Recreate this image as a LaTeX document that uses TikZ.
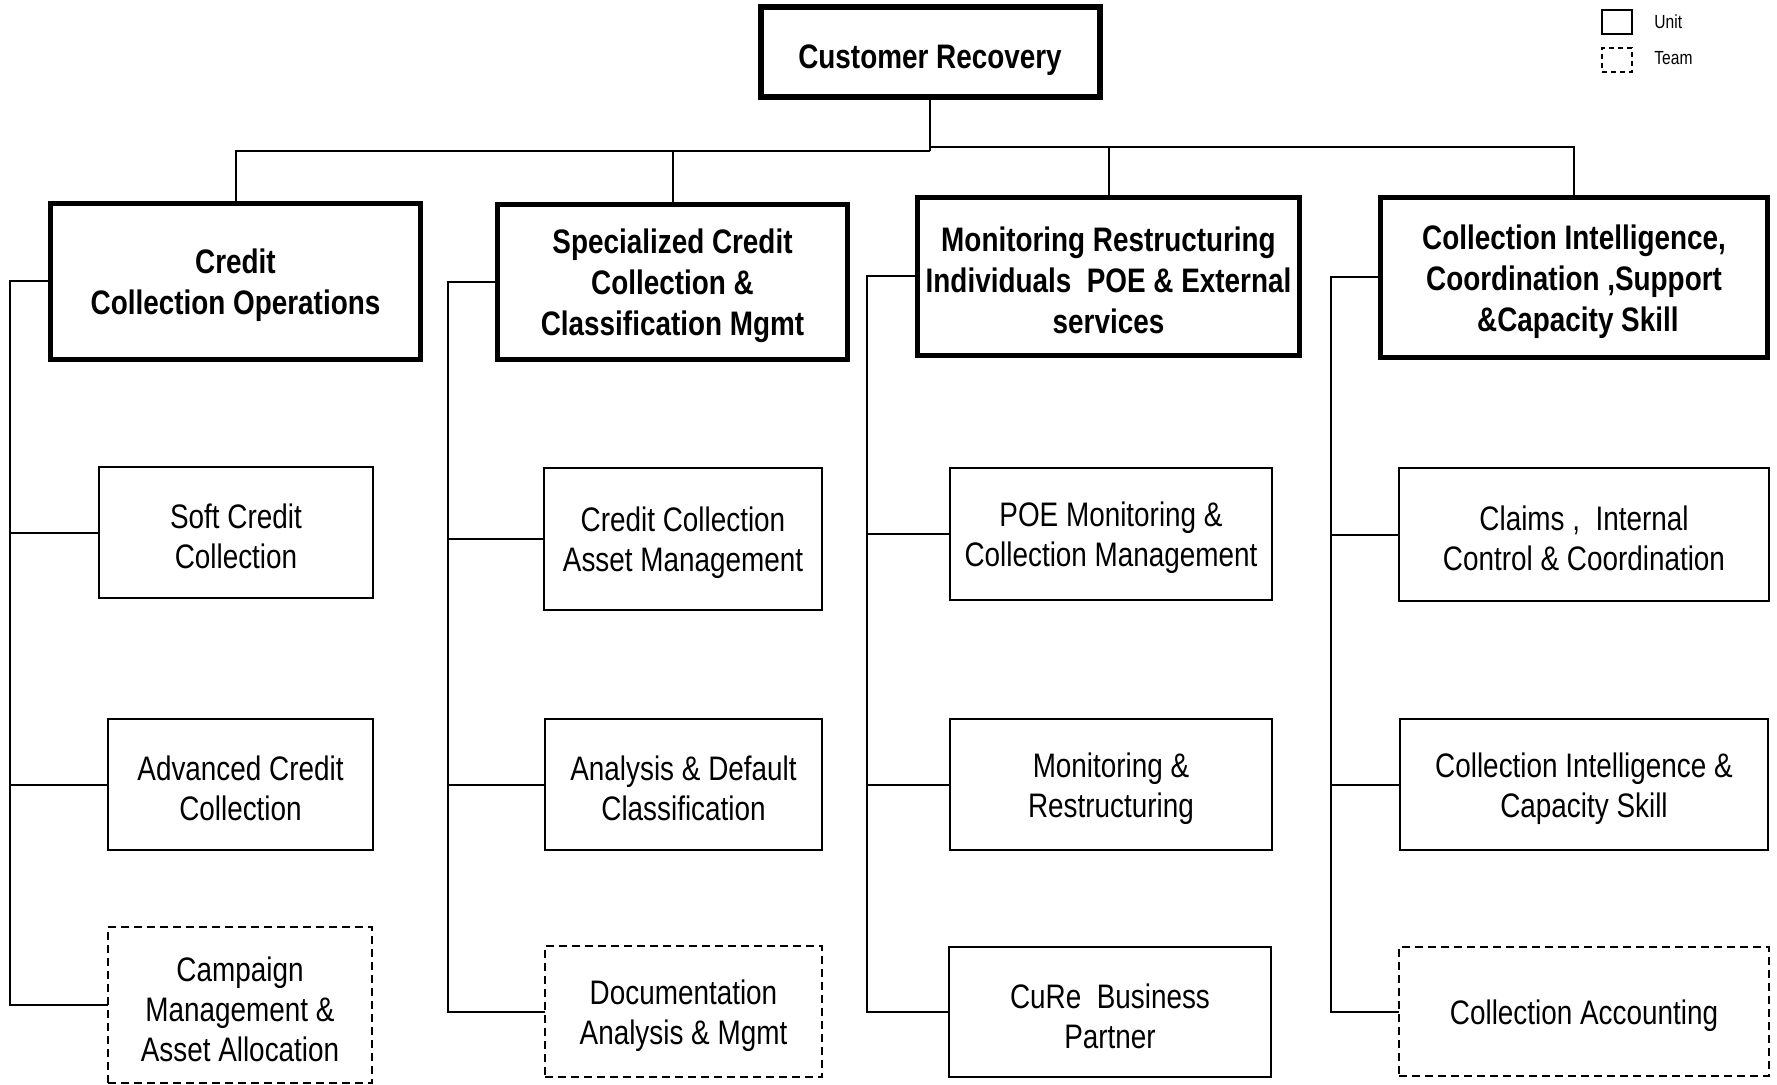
\documentclass[tikz,border=0pt]{standalone}
\usepackage{fontspec}
\setmainfont[FakeStretch=0.82]{Liberation Sans}
\newcommand{\lowr}{\rule{0pt}{16.5pt}}
\newcommand{\lowrtop}{\rule{0pt}{19.5pt}}
\begin{document}
\begin{tikzpicture}[x=0.5pt,y=-0.5pt,
  unit/.style={draw, line width=1pt, inner sep=0pt, outer sep=0pt, align=center, font=\fontsize{17}{20}\selectfont},
  team/.style={unit, dash pattern=on 4pt off 2.5pt},
  head/.style={draw, line width=2.6pt, inner sep=0pt, outer sep=0pt, align=center, font=\fontsize{17}{20.5}\selectfont\bfseries},
  conn/.style={line width=1pt},
  sz/.style 2 args={minimum width=#1*0.5pt, minimum height=#2*0.5pt},
  legtext/.style={anchor=west, inner sep=0pt, font=\fontsize{9.5}{11}\selectfont}
]
\useasboundingbox (0,0) rectangle (1777,1085);

% top
\node[head, sz={339}{90}, line width=3pt] (top) at (930,52.5) {\lowrtop Customer Recovery};

% headers
\node[head, sz={370}{156}] (h1) at (235.5,281.5) {\lowr Credit\\Collection Operations};
\node[head, sz={350}{155}] (h2) at (672.5,282) {\lowr Specialized Credit\\Collection \&\\Classification Mgmt};
\node[head, sz={382}{158}] (h3) at (1108.5,276.5) {\lowr Monitoring Restructuring\\Individuals~ POE \& External\\services};
\node[head, sz={387}{160}] (h4) at (1574,277.5) {\lowr Collection Intelligence,\\Coordination ,Support\\\ \&Capacity Skill};

% children
\node[unit, sz={274}{131}] (c1a) at (236,532.5) {\lowr Soft Credit\\Collection};
\node[unit, sz={265}{131}] (c1b) at (240.5,784.5) {\lowr Advanced Credit\\Collection};
\node[team, sz={264}{156}] (c1c) at (240,1005) {\lowr Campaign\\Management \&\\Asset Allocation};

\node[unit, sz={278}{142}] (c2a) at (683,539) {\lowr Credit Collection\\Asset Management};
\node[unit, sz={277}{131}] (c2b) at (683.5,784.5) {\lowr Analysis \& Default\\Classification};
\node[team, sz={277}{131}] (c2c) at (683.5,1011.5) {\lowr Documentation\\Analysis \& Mgmt};

\node[unit, sz={322}{132}] (c3a) at (1111,534) {\lowr POE Monitoring \&\\Collection Management};
\node[unit, sz={322}{131}] (c3b) at (1111,784.5) {\lowr Monitoring \&\\Restructuring};
\node[unit, sz={322}{130}] (c3c) at (1110,1012) {\lowr CuRe~ Business\\Partner};

\node[unit, sz={370}{133}] (c4a) at (1584,534.5) {\lowr Claims ,~ Internal\\Control \& Coordination};
\node[unit, sz={368}{131}] (c4b) at (1584,784.5) {\lowr Collection Intelligence \&\\Capacity Skill};
\node[team, sz={370}{129}] (c4c) at (1584,1011.5) {\lowr Collection Accounting};

% bus
\coordinate (busL) at (930,151);
\coordinate (busR) at (930,147);
\draw[conn] (top.south) -- (busL);
\draw[conn] (h1.north) |- (busL);
\draw[conn] (h2.north) -- (h2.north |- busL);
\draw[conn] (busR) -| (h4.north);
\draw[conn] (h3.north) -- (h3.north |- busR);

% spines
\coordinate (s1) at (10,0);
\coordinate (s2) at (448,0);
\coordinate (s3) at (867,0);
\coordinate (s4) at (1331,0);

\draw[conn] (h1.west) -- (h1.west -| s1) |- (c1c.west);
\draw[conn] (c1a.west -| s1) -- (c1a.west);
\draw[conn] (c1b.west -| s1) -- (c1b.west);

\draw[conn] (h2.west) -- (h2.west -| s2) |- (c2c.west);
\draw[conn] (c2a.west -| s2) -- (c2a.west);
\draw[conn] (c2b.west -| s2) -- (c2b.west);

\draw[conn] (h3.west) -- (h3.west -| s3) |- (c3c.west);
\draw[conn] (c3a.west -| s3) -- (c3a.west);
\draw[conn] (c3b.west -| s3) -- (c3b.west);

\draw[conn] (h4.west) -- (h4.west -| s4) |- (c4c.west);
\draw[conn] (c4a.west -| s4) -- (c4a.west);
\draw[conn] (c4b.west -| s4) -- (c4b.west);

% legend
\node[draw, line width=0.8pt, inner sep=0pt, sz={30}{24}] (lu) at (1617,22) {};
\node[draw, line width=0.8pt, dash pattern=on 2.5pt off 2pt, inner sep=0pt, sz={30}{24}] (lt) at (1617,60) {};
\node[legtext] (lut) at (1654,22) {Unit};
\node[legtext] (ltt) at (1654,58) {Team};
\end{tikzpicture}
\end{document}
